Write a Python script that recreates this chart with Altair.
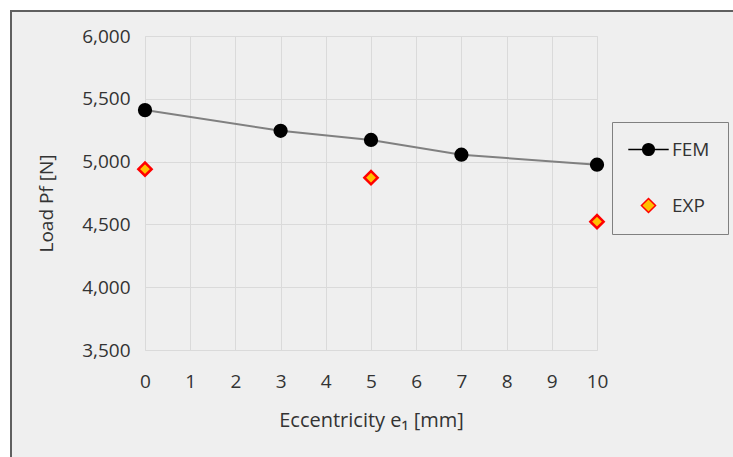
import altair as alt
import pandas as pd

fem_x = [0, 3, 5, 7, 10]
fem_y = [5410, 5245, 5172, 5055, 4975]
exp_x = [0, 5, 10]
exp_y = [4940, 4872, 4522]
series_names = ["FEM", "EXP"]

fem = pd.DataFrame({"e": fem_x, "load": fem_y, "series": "FEM"})
exp = pd.DataFrame({"e": exp_x, "load": exp_y, "series": "EXP"})
df = pd.concat([fem, exp], ignore_index=True)

FONT = "Open Sans"
TXT = "#333333"
W, H = 452, 314
PL, PT = 145, 36

fem_symbol = "M-3.3,0H-0.95 M0.95,0H3.3 M-0.95,0A0.95,0.95 0 1,0 0.95,0A0.95,0.95 0 1,0 -0.95,0Z"
exp_symbol = "M0,-1.15L1.15,0L0,1.15L-1.15,0Z"

xs = alt.X("e:Q", scale=alt.Scale(domain=[0, 10], nice=False),
           axis=alt.Axis(title="Eccentricity e₁ [mm]", values=list(range(11)), format="d",
                         grid=True, gridColor="#dadada", domain=False, ticks=False, labelFlush=False,
                         labelFontSize=19, titleFontSize=20, labelPadding=22, titlePadding=19,
                         labelColor=TXT, titleColor=TXT, titleFontWeight="normal"))
ys = alt.Y("load:Q", scale=alt.Scale(domain=[3500, 6000], nice=False),
           axis=alt.Axis(title="Load Pf [N]", values=[3500, 4000, 4500, 5000, 5500, 6000], format=",.0f",
                         grid=True, gridColor="#dadada", domain=False, ticks=False, labelFlush=False,
                         labelFontSize=19, titleFontSize=19, labelPadding=15, titlePadding=25,
                         titleY=167,
                         labelColor=TXT, titleColor=TXT, titleFontWeight="normal"))

base_frame = alt.Chart(pd.DataFrame({"a": [0]}))
outer_white = base_frame.mark_rect(fill=None, stroke="white", strokeWidth=20).encode(
    x=alt.value(0 - PL), x2=alt.value(733 - PL + 10),
    y=alt.value(1 - PT), y2=alt.value(457 - PT + 10)
)
frame = base_frame.mark_rect(fill=None, stroke="#606060", strokeWidth=2).encode(
    x=alt.value(11 - PL), x2=alt.value(733 - PL + 5),
    y=alt.value(11 - PT), y2=alt.value(457 - PT + 5)
)

line = alt.Chart(fem).mark_line(color="#808080", strokeWidth=2).encode(x=xs, y=ys)

fem_pts = alt.Chart(fem).mark_point(filled=True, opacity=1, shape="circle", size=150,
                                    fill="black", stroke="black").encode(x=xs, y=ys)
exp_pts = alt.Chart(exp).mark_point(filled=True, opacity=1, shape="diamond", size=175,
                                    fill="#ffc000", stroke="#ff0000", strokeWidth=2.5).encode(x=xs, y=ys)

legend_layer = alt.Chart(df).transform_filter("false").mark_point(filled=True, opacity=1, strokeWidth=2).encode(
    x=xs, y=ys,
    shape=alt.Shape("series:N", scale=alt.Scale(domain=series_names, range=[fem_symbol, exp_symbol]),
                    legend=alt.Legend(title=None, orient="none", legendX=612 - PL, legendY=122 - PT,
                                      labelFontSize=19, labelFont=FONT, labelColor=TXT,
                                      symbolSize=150, rowPadding=35, labelOffset=14, symbolOffset=9,
                                      zindex=5, fillColor="#efefef", strokeColor="#808080", padding=18)),
    fill=alt.Fill("series:N", scale=alt.Scale(domain=series_names, range=["black", "#ffc000"])),
    stroke=alt.Stroke("series:N", scale=alt.Scale(domain=series_names, range=["black", "#ff0000"])),
)

chart = alt.layer(line, fem_pts, exp_pts, legend_layer, outer_white, frame).properties(
    width=W, height=H,
    padding={"left": PL, "top": PT, "right": 733 - PL - W, "bottom": 457 - PT - H},
    autosize=alt.AutoSizeParams(type="none"),
    background="#efefef",
).configure_view(stroke=None).configure(font=FONT)

chart.save("out.html", embed_options={"renderer": "svg", "actions": False})
